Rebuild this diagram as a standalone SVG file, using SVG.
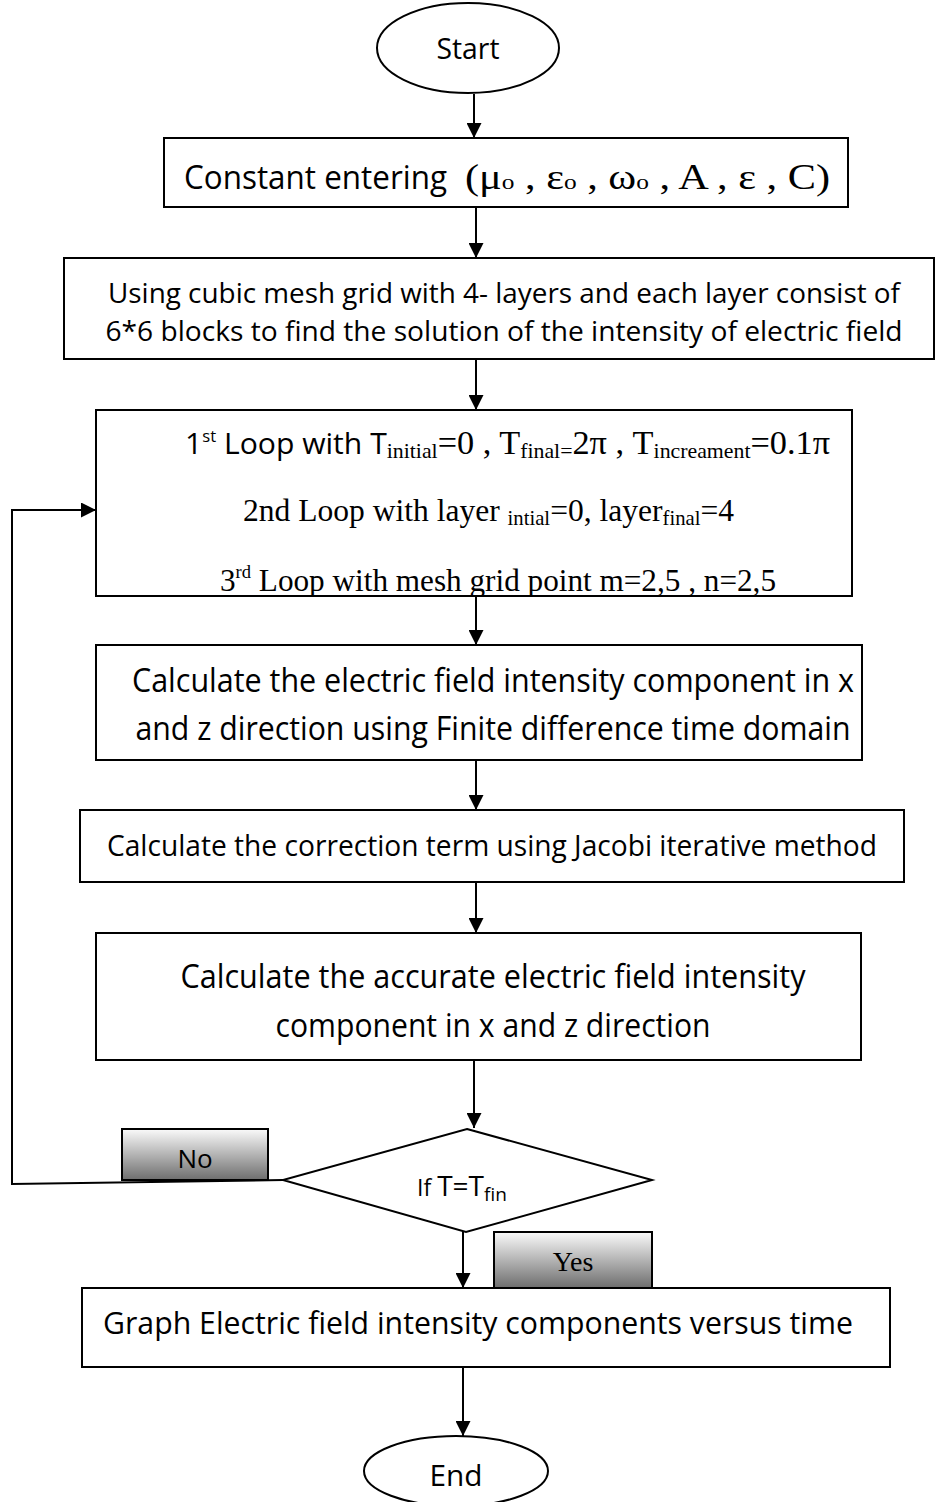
<svg xmlns="http://www.w3.org/2000/svg" width="935" height="1502" viewBox="0 0 935 1502">
<style>
.box{fill:#fff;stroke:#000;stroke-width:2}
.ln{fill:none;stroke:#000;stroke-width:2}
.s{font-family:"Open Sans","Liberation Sans",sans-serif;fill:#000}
.t{font-family:"Liberation Serif","Times New Roman",serif;fill:#000}
.btn{fill:url(#g);stroke:#000;stroke-width:2}
</style>
<defs>
<marker id="ah" viewBox="0 0 14 14" refX="14" refY="7" markerWidth="15" markerHeight="15" markerUnits="userSpaceOnUse" orient="auto">
<path d="M0,0L14,7L0,14z" fill="#000"/>
</marker>
<linearGradient id="g" x1="0" y1="0" x2="0" y2="1">
<stop offset="0" stop-color="#fafafa"/>
<stop offset="1" stop-color="#6e6e6e"/>
</linearGradient>
<clipPath id="cl"><rect x="96" y="410" width="756" height="185"/></clipPath>
</defs>

<g id="connectors">
<line class="ln" x1="474" y1="94" x2="474" y2="138" marker-end="url(#ah)"/>
<line class="ln" x1="476" y1="207" x2="476" y2="258" marker-end="url(#ah)"/>
<line class="ln" x1="476" y1="359" x2="476" y2="410" marker-end="url(#ah)"/>
<line class="ln" x1="476" y1="596" x2="476" y2="645" marker-end="url(#ah)"/>
<line class="ln" x1="476" y1="760" x2="476" y2="810" marker-end="url(#ah)"/>
<line class="ln" x1="476" y1="882" x2="476" y2="933" marker-end="url(#ah)"/>
<line class="ln" x1="474" y1="1060" x2="474" y2="1128" marker-end="url(#ah)"/>
<line class="ln" x1="463" y1="1232" x2="463" y2="1288" marker-end="url(#ah)"/>
<line class="ln" x1="463" y1="1367" x2="463" y2="1436" marker-end="url(#ah)"/>
<polyline class="ln" points="283,1180 12,1184 12,510 96,510" marker-end="url(#ah)"/>
</g>

<g id="start">
<ellipse class="box" cx="468" cy="48" rx="91" ry="45"/>
<text class="s" x="468" y="59" font-size="29" text-anchor="middle" textLength="63" lengthAdjust="spacingAndGlyphs">Start</text>
</g>

<g id="constants">
<rect class="box" x="164" y="138" width="684" height="69"/>
<text class="s" x="184" y="189" font-size="32" textLength="263" lengthAdjust="spacingAndGlyphs">Constant entering</text>
<text class="t" x="465" y="189" font-size="35" textLength="365" lengthAdjust="spacingAndGlyphs">(μ<tspan font-size="21">o</tspan> , ε<tspan font-size="21">o</tspan> , ω<tspan font-size="21">o</tspan> , A , ε , C)</text>
</g>

<g id="mesh">
<rect class="box" x="64" y="258" width="870" height="101"/>
<text class="s" x="504" y="303" font-size="27" text-anchor="middle" textLength="792" lengthAdjust="spacingAndGlyphs">Using cubic mesh grid with 4- layers and each layer consist of</text>
<text class="s" x="504" y="341" font-size="27" text-anchor="middle" textLength="797" lengthAdjust="spacingAndGlyphs">6*6 blocks to find the solution of the intensity of electric field</text>
</g>

<g id="loops">
<rect class="box" x="96" y="410" width="756" height="186"/>
<g clip-path="url(#cl)">
<text x="185" y="454" font-size="29" textLength="645" lengthAdjust="spacingAndGlyphs"><tspan class="s">1</tspan><tspan class="s" font-size="16" dy="-12">st</tspan><tspan class="s" dy="12"> Loop with T</tspan><tspan class="t" font-size="21" dy="4">initial</tspan><tspan class="t" font-size="33" dy="-4">=0 , T</tspan><tspan class="t" font-size="21" dy="4">final=</tspan><tspan class="t" font-size="33" dy="-4">2π , T</tspan><tspan class="t" font-size="21" dy="4">increament</tspan><tspan class="t" font-size="33" dy="-4">=0.1π</tspan></text>
<text class="t" x="243" y="521" font-size="32" textLength="491" lengthAdjust="spacingAndGlyphs">2nd Loop with layer <tspan font-size="21" dy="4">intial</tspan><tspan dy="-4">=0, layer</tspan><tspan font-size="21" dy="4">final</tspan><tspan dy="-4">=4</tspan></text>
<text class="t" x="220" y="591" font-size="32" textLength="556" lengthAdjust="spacingAndGlyphs">3<tspan font-size="19" dy="-13">rd</tspan><tspan dy="13"> Loop with mesh grid point m=2,5 , n=2,5</tspan></text>
</g>
</g>

<g id="calc-fdtd">
<rect class="box" x="96" y="645" width="766" height="115"/>
<text class="s" x="493" y="692" font-size="32" text-anchor="middle" textLength="722" lengthAdjust="spacingAndGlyphs">Calculate the electric field intensity component in x</text>
<text class="s" x="493" y="740" font-size="32" text-anchor="middle" textLength="715" lengthAdjust="spacingAndGlyphs">and z direction using Finite difference time domain</text>
</g>

<g id="calc-jacobi">
<rect class="box" x="80" y="810" width="824" height="72"/>
<text class="s" x="492" y="856" font-size="29" text-anchor="middle" textLength="770" lengthAdjust="spacingAndGlyphs">Calculate the correction term using Jacobi iterative method</text>
</g>

<g id="calc-accurate">
<rect class="box" x="96" y="933" width="765" height="127"/>
<text class="s" x="493" y="988" font-size="32" text-anchor="middle" textLength="625" lengthAdjust="spacingAndGlyphs">Calculate the accurate electric field intensity</text>
<text class="s" x="493" y="1037" font-size="32" text-anchor="middle" textLength="435" lengthAdjust="spacingAndGlyphs">component in x and z direction</text>
</g>

<g id="decision">
<polygon class="box" points="467,1129 652,1180 466,1232 283,1180"/>
<text class="s" x="417" y="1196" font-size="23">If <tspan font-size="28">T=T</tspan><tspan font-size="19" dy="5">fin</tspan></text>
</g>

<g id="label-no">
<rect class="btn" x="122" y="1129" width="146" height="51"/>
<text class="s" x="195" y="1168" font-size="26" text-anchor="middle">No</text>
</g>

<g id="label-yes">
<rect class="btn" x="494" y="1232" width="158" height="56"/>
<text class="t" x="573" y="1271" font-size="28" text-anchor="middle">Yes</text>
</g>

<g id="graph">
<rect class="box" x="82" y="1288" width="808" height="79"/>
<text class="s" x="103" y="1334" font-size="31" textLength="750" lengthAdjust="spacingAndGlyphs">Graph Electric field intensity components versus time</text>
</g>

<g id="end">
<ellipse class="box" cx="456" cy="1471" rx="92" ry="35"/>
<text class="s" x="456" y="1486" font-size="29" text-anchor="middle" textLength="53" lengthAdjust="spacingAndGlyphs">End</text>
</g>
</svg>
